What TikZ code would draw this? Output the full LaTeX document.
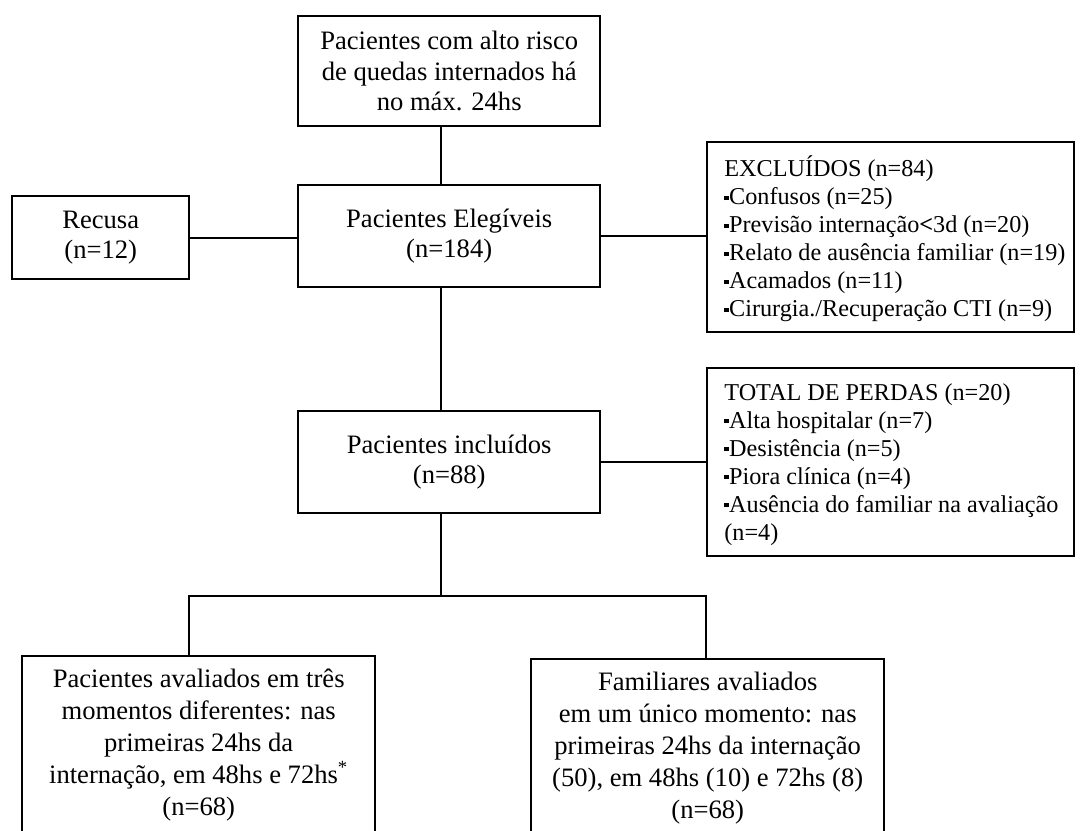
\documentclass[tikz,border=0pt]{standalone}
\usepackage{fontspec}
\setmainfont{Liberation Serif}
\newcommand\sqbul{\rule[2.3pt]{2.4pt}{2.4pt}}
\begin{document}
\begin{tikzpicture}[x=0.5pt,y=-0.5pt,
  box/.style={draw, line width=1.2pt, inner sep=0pt, align=center,
    font=\fontsize{13.3}{15.3}\selectfont},
  listtxt/.style={inner sep=0pt, font=\fontsize{12.1}{14}\selectfont},
  bottxt/.style={inner sep=0pt, font=\fontsize{13.3}{16}\selectfont},
  conn/.style={line width=0.9pt}]
\useasboundingbox (0,0) rectangle (1081,830);
\clip (0,0) rectangle (1081,830);

\coordinate (vx) at (441,0);

\node[box, anchor=north west, minimum width=151pt, minimum height=55pt] (top) at (297,15)
  {Pacientes com alto risco\\de quedas internados há\\no máx. 24hs};
\node[box, anchor=north west, minimum width=151pt, minimum height=51pt] (eleg) at (297,184)
  {Pacientes Elegíveis\\(n=184)};
\node[box, anchor=north west, minimum width=88.5pt, minimum height=41.5pt] (rec) at (11,195)
  {Recusa\\(n=12)};
\node[box, anchor=north west, minimum width=183.5pt, minimum height=95pt] (excl) at (706,141) {};
\node[listtxt, anchor=west, align=left] (exclt) at ([xshift=9pt,yshift=-1pt]excl.west)
  {EXCLUÍDOS (n=84)\\
   \sqbul Confusos (n=25)\\
   \sqbul Previsão internação{\bfseries<}3d (n=20)\\
   \sqbul Relato de ausência familiar (n=19)\\
   \sqbul Acamados (n=11)\\
   \sqbul Cirurgia./Recuperação CTI (n=9)};

\node[box, anchor=north west, minimum width=151pt, minimum height=51pt] (incl) at (297,410)
  {Pacientes incluídos\\(n=88)};
\node[box, anchor=north west, minimum width=183.5pt, minimum height=94pt] (perd) at (706,367) {};
\node[listtxt, anchor=west, align=left] (perdt) at ([xshift=9pt,yshift=-1pt]perd.west)
  {TOTAL DE PERDAS (n=20)\\
   \sqbul Alta hospitalar (n=7)\\
   \sqbul Desistência (n=5)\\
   \sqbul Piora clínica (n=4)\\
   \sqbul Ausência do familiar na avaliação\\
   (n=4)};

\node[box, anchor=north west, minimum width=176.5pt, minimum height=120pt] (pl) at (21,655) {};
\node[bottxt, anchor=north, align=center] (plt) at ([yshift=-7pt]pl.north)
  {Pacientes avaliados em três\\momentos diferentes: nas\\primeiras 24hs da\\internação, em 48hs e 72hs\textsuperscript{*}\\(n=68)};
\node[box, anchor=north west, minimum width=176.5pt, minimum height=120pt] (pr) at (530,658) {};
\node[bottxt, anchor=north, align=center] (prt) at ([yshift=-7pt]pr.north)
  {Familiares avaliados\\em um único momento: nas\\primeiras 24hs da internação\\(50), em 48hs (10) e 72hs (8)\\(n=68)};

\draw[conn] (top.south -| vx) -- (eleg.north -| vx);
\draw[conn] (rec.east) -- (rec.east -| eleg.west);
\draw[conn] (eleg.east) -- (eleg.east -| excl.west);
\draw[conn] (eleg.south -| vx) -- (incl.north -| vx);
\draw[conn] (incl.east) -- (incl.east -| perd.west);
\coordinate (bm) at (441,596);
\coordinate (bl) at (189,596);
\coordinate (brt) at (706,596);
\draw[conn] (incl.south -| vx) -- (bm);
\draw[conn] (bl |- pl.north) -- (bl) -- (brt) -- (brt |- pr.north);
\end{tikzpicture}
\end{document}
